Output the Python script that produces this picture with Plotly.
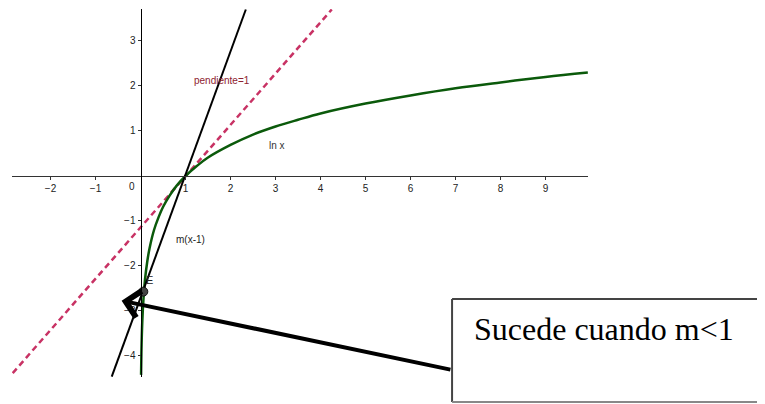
import plotly.graph_objects as go

# ln x, puntos
lnx_x = [0.012, 0.02, 0.04, 0.07, 0.1, 0.15, 0.2, 0.3, 0.4, 0.5, 0.65, 0.8, 1.0,
         1.25, 1.5, 2.0, 2.5, 3.0, 3.5, 4.0, 5.0, 6.0, 7.0, 8.0, 9.0, 9.94]
lnx_y = [-4.42, -3.91, -3.22, -2.66, -2.30, -1.90, -1.61, -1.20, -0.92, -0.69, -0.43, -0.22, 0.0,
         0.22, 0.41, 0.69, 0.92, 1.10, 1.25, 1.39, 1.61, 1.79, 1.95, 2.08, 2.20, 2.30]

# recta pendiente=1 (dashed) y recta m(x-1)
tang_x = [-2.84, 4.25]
tang_y = [-4.38, 3.70]
mline_x = [-0.64, 2.34]
mline_y = [-4.46, 3.70]

# punto E
e_x = [0.062]
e_y = [-2.57]

x_ticks = [-2, -1, 1, 2, 3, 4, 5, 6, 7, 8, 9]
y_ticks = [-4, -3, -2, -1, 1, 2, 3]

x_range = [-2.856, 9.944]
y_range = [-4.467, 3.711]

fig = go.Figure()
fig.add_trace(go.Scatter(x=tang_x, y=tang_y, mode='lines',
                         line=dict(color='#C83264', width=2.5, dash='6px,4px')))
fig.add_trace(go.Scatter(x=lnx_x, y=lnx_y, mode='lines', line_shape='spline',
                         line=dict(color='#0B5A0B', width=2.5)))
fig.add_trace(go.Scatter(x=mline_x, y=mline_y, mode='lines',
                         line=dict(color='black', width=2)))
fig.add_trace(go.Scatter(x=e_x, y=e_y, mode='markers',
                         marker=dict(color='#444444', size=9, line=dict(color='#111111', width=1))))

ypos = (0 - x_range[0]) / (x_range[1] - x_range[0])
xpos = (0 - y_range[0]) / (y_range[1] - y_range[0])

tickfont = dict(family='Liberation Sans, Arial', size=10, color='#222222')
# la pagina tiene 8px de margen en body, se descuenta aqui
fig.update_layout(
    width=757, height=396,
    margin=dict(l=4, r=177, t=1, b=27),
    paper_bgcolor='white', plot_bgcolor='white',
    showlegend=False,
    xaxis=dict(range=x_range, tickvals=x_ticks, showgrid=False, zeroline=False,
               showline=True, linecolor='#333333', linewidth=1,
               ticks='outside', ticklen=3, tickcolor='#333333',
               anchor='free', position=xpos, tickfont=tickfont),
    yaxis=dict(range=y_range, tickvals=y_ticks, showgrid=False, zeroline=False,
               showline=True, linecolor='black', linewidth=1,
               ticks='outside', ticklen=3, tickcolor='#333333',
               anchor='free', position=ypos, tickfont=tickfont),
)

lbl = dict(family='Liberation Sans, Arial', size=10)
fig.add_annotation(x=-0.2, y=-0.23, text='0', showarrow=False, font=dict(lbl, color='#222222'))
fig.add_annotation(x=1.81, y=2.13, text='pendiente=1', showarrow=False, font=dict(lbl, color='#8E2230'))
fig.add_annotation(x=3.03, y=0.67, text='ln x', showarrow=False, font=dict(lbl, color='#333333'))
fig.add_annotation(x=1.1, y=-1.42, text='m(x-1)', showarrow=False, font=dict(lbl, color='#222222'))
fig.add_annotation(x=0.21, y=-2.31, text='E', showarrow=False, font=dict(lbl, color='#222222', size=11))

# flecha gruesa hacia el punto E
fig.add_annotation(x=-0.42, y=-2.77, ax=6.92, ay=-4.31, axref='x', ayref='y',
                   text='', showarrow=True, arrowhead=4, arrowsize=1.3,
                   arrowwidth=4, arrowcolor='black', standoff=0)

# recuadro de texto, abierto por la derecha (sale de la imagen)
bx0, bx1, by0, by1 = 0.764, 1.35, -0.068, 0.212
fig.add_shape(type='line', xref='paper', yref='paper', x0=bx0, x1=bx1, y0=by1, y1=by1,
              line=dict(color='#444444', width=2))
fig.add_shape(type='line', xref='paper', yref='paper', x0=bx0, x1=bx0, y0=by0, y1=by1,
              line=dict(color='#444444', width=2))
fig.add_shape(type='line', xref='paper', yref='paper', x0=bx0, x1=bx1, y0=by0, y1=by0,
              line=dict(color='#888888', width=2))
fig.add_annotation(xref='paper', yref='paper', x=0.799, y=0.13, xanchor='left', yanchor='middle',
                   text='Sucede cuando m&lt;1', showarrow=False,
                   font=dict(family='Liberation Serif, Times New Roman', size=32, color='black'))

fig.write_html("out.html")
